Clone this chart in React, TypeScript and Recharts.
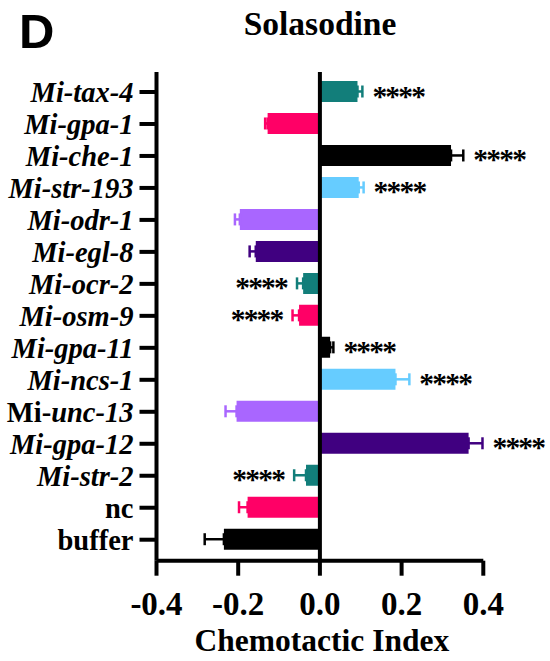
import React from 'react';
import { BarChart, Bar, XAxis, YAxis, Cell, ErrorBar, ReferenceLine, LabelList } from 'recharts';

const categories = [
  'Mi-tax-4', 'Mi-gpa-1', 'Mi-che-1', 'Mi-str-193', 'Mi-odr-1', 'Mi-egl-8', 'Mi-ocr-2', 'Mi-osm-9',
  'Mi-gpa-11', 'Mi-ncs-1', 'Mi-unc-13', 'Mi-gpa-12', 'Mi-str-2', 'nc', 'buffer',
];
const values = [0.092, -0.128, 0.321, 0.095, -0.196, -0.157, -0.041, -0.051, 0.025, 0.185, -0.204, 0.364, -0.034, -0.177, -0.235];
const errors = [0.012, 0.006, 0.030, 0.012, 0.012, 0.015, 0.015, 0.016, 0.008, 0.034, 0.027, 0.034, 0.029, 0.021, 0.047];
const significance = ['****', '', '****', '****', '', '', '****', '****', '****', '****', '', '****', '****', '', ''];
const barColors = [
  '#127E7A', '#FF0066', '#000000', '#66CCFF', '#A966FF', '#400080',
  '#127E7A', '#FF0066', '#000000', '#66CCFF', '#A966FF', '#400080',
  '#127E7A', '#FF0066', '#000000',
];
const xTicks = [-0.4, -0.2, 0, 0.2, 0.4];

const data = categories.map((name, i) => ({
  name,
  value: values[i],
  err: values[i] >= 0 ? [0, errors[i]] : [errors[i], 0],
  sig: significance[i],
  color: barColors[i],
}));

const uniqueColors = Array.from(new Set(barColors));

const SERIF = "'Liberation Serif', 'Times New Roman', Times, serif";
const SANS = "'Liberation Sans', Arial, Helvetica, sans-serif";

const YTick = (props: any) => {
  const { x, y, payload } = props;
  const name: string = payload.value;
  let parts: { t: string; it: boolean }[];
  if (name === 'nc' || name === 'buffer') parts = [{ t: name, it: false }];
  else if (name === 'Mi-unc-13') parts = [{ t: 'Mi-', it: false }, { t: 'unc-13', it: true }];
  else parts = [{ t: name, it: true }];
  return (
    <text x={x} y={y} dy="0.35em" textAnchor="end" fontFamily={SERIF} fontWeight="bold" fontSize={28.5} fill="#000">
      {parts.map((p, k) => (
        <tspan key={k} fontStyle={p.it ? 'italic' : 'normal'}>{p.t}</tspan>
      ))}
    </text>
  );
};

const SigLabel = (props: any) => {
  const { x, y, width, height, index } = props;
  const sig = significance[index];
  if (!sig) return null;
  const v = values[index];
  const e = errors[index];
  const pxPerUnit = Math.abs(width) / Math.abs(v);
  const cy = y + height / 2 + 14;
  const gap = 10;
  if (v >= 0) {
    const sx = Math.max(x, x + width) + e * pxPerUnit + gap;
    return (
      <text x={sx} y={cy} textAnchor="start" fontFamily={SERIF} fontWeight="bold" fontSize={29.5} letterSpacing={-1.8} fill="#000">{sig}</text>
    );
  }
  const sx = Math.min(x, x + width) - e * pxPerUnit - gap;
  return (
    <text x={sx} y={cy} textAnchor="end" fontFamily={SERIF} fontWeight="bold" fontSize={29.5} letterSpacing={-1.8} fill="#000">{sig}</text>
  );
};

const XLabel = (props: any) => {
  const vb = props.viewBox || {};
  return (
    <text
      x={vb.x + vb.width / 2 + 2}
      y={vb.y + vb.height}
      textAnchor="middle"
      fontFamily={SERIF}
      fontWeight="bold"
      fontSize={31.5}
      fill="#000"
    >
      Chemotactic Index
    </text>
  );
};

export default function App() {
  return (
    <div style={{ position: 'absolute', left: 0, top: 0, width: 550, height: 661, background: '#fff' }}>
      <BarChart
        width={550}
        height={661}
        data={data}
        layout="vertical"
        margin={{ top: 72, right: 66.7, left: 6.5, bottom: 10.3 }}
      >
        <XAxis
          type="number"
          domain={[-0.4, 0.4]}
          ticks={xTicks}
          allowDataOverflow
          height={90}
          tickSize={15}
          tickMargin={16}
          tickFormatter={(v: number) => v.toFixed(1)}
          axisLine={{ stroke: '#000', strokeWidth: 4 }}
          tickLine={{ stroke: '#000', strokeWidth: 4 }}
          tick={{ fill: '#000', fontSize: 33, fontWeight: 'bold', fontFamily: SERIF }}
          label={<XLabel />}
        />
        <YAxis
          type="category"
          dataKey="name"
          width={150}
          tickSize={17}
          tickMargin={6}
          padding={{ top: 4, bottom: 5 }}
          interval={0}
          axisLine={{ stroke: '#000', strokeWidth: 4 }}
          tickLine={{ stroke: '#000', strokeWidth: 4 }}
          tick={<YTick />}
        />
        <Bar dataKey="value" barSize={21} isAnimationActive={false}>
          {data.map((d, i) => (
            <Cell key={i} fill={d.color} />
          ))}
          {uniqueColors.map((c) => (
            <ErrorBar
              key={c}
              dataKey={(d: any) => (d.color === c ? d.err : undefined)}
              direction="x"
              width={6}
              strokeWidth={2.5}
              stroke={c}
              isAnimationActive={false}
            />
          ))}
          <LabelList dataKey="sig" content={<SigLabel />} />
        </Bar>
        <ReferenceLine x={0} stroke="#000" strokeWidth={4} ifOverflow="extendDomain" />
      </BarChart>
      <svg width={550} height={661} style={{ position: 'absolute', left: 0, top: 0, pointerEvents: 'none' }}>
        <text x={19} y={48} fontFamily={SANS} fontWeight="bold" fontSize={49} fill="#000">D</text>
        <text x={320} y={35} textAnchor="middle" fontFamily={SERIF} fontWeight="bold" fontSize={33.5} fill="#000">Solasodine</text>
      </svg>
    </div>
  );
}
